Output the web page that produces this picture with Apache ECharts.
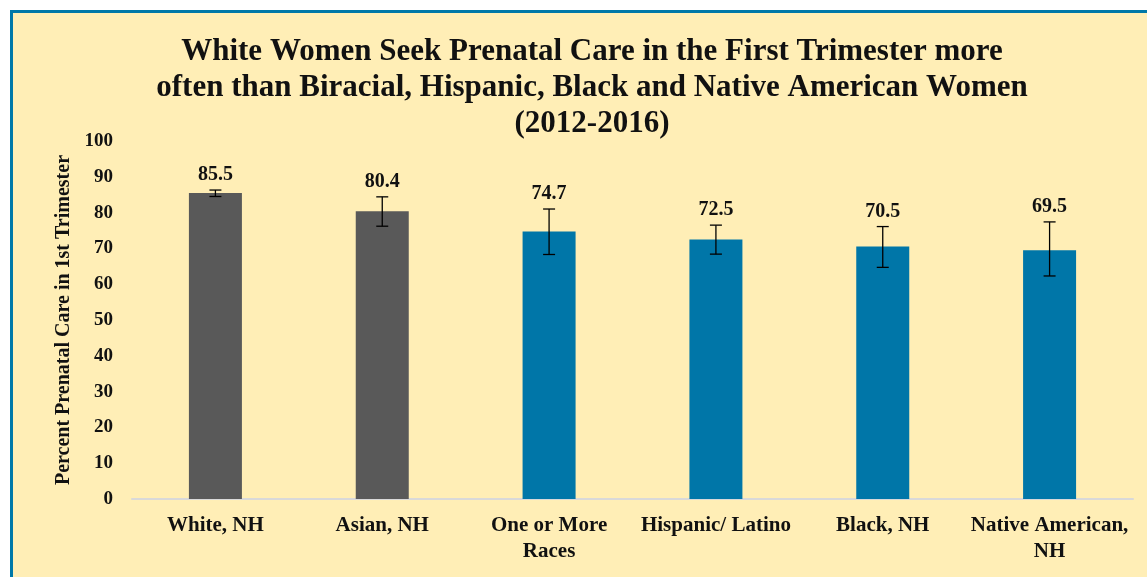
<!DOCTYPE html>
<html><head><meta charset="utf-8">
<script src="https://cdn.jsdelivr.net/npm/echarts@6/dist/echarts.min.js"></script>
<style>
html,body{margin:0;padding:0;background:#fff;width:1147px;height:577px;overflow:hidden}
#frame{position:absolute;left:10px;top:10px;width:1160px;height:600px;border:3px solid #0078A8;background:#FFEEB6;box-sizing:border-box}
#c{position:absolute;left:0;top:0;width:1147px;height:577px}
</style></head>
<body>
<div id="frame"></div>
<div id="c"></div>
<script>
const categories = ['White, NH','Asian, NH','One or More\nRaces','Hispanic/ Latino','Black, NH','Native American,\nNH'];
const values = [85.5, 80.4, 74.7, 72.5, 70.5, 69.5];
const errLow = [84.5, 76.2, 68.3, 68.4, 64.7, 62.3];
const errHigh = [86.3, 84.4, 81.0, 76.5, 76.1, 77.4];
const barColors = ['#595959','#595959','#0076A8','#0076A8','#0076A8','#0076A8'];
const yTicks = [0,10,20,30,40,50,60,70,80,90,100];

const font = '"Liberation Serif", serif';
const chart = echarts.init(document.getElementById('c'));
chart.setOption({
  backgroundColor: 'transparent',
  animation: false,
  title: {
    text: 'White Women Seek Prenatal Care in the First Trimester more\noften than Biracial, Hispanic, Black and Native American Women\n(2012-2016)',
    left: 587, top: 29, textAlign: 'center',
    textStyle: {fontFamily: font, fontWeight: 'bold', fontSize: 31, lineHeight: 36, color: '#111'}
  },
  grid: {left: 132, right: 14, top: 141, bottom: 78, containLabel: false},
  xAxis: {
    type: 'category', data: categories,
    axisLine: {lineStyle: {color: '#D9D9D9', width: 2}},
    axisTick: {show: false},
    axisLabel: {fontFamily: font, fontWeight: 'bold', fontSize: 21, color: '#111', lineHeight: 26, margin: 14, interval: 0}
  },
  yAxis: {
    type: 'value', min: 0, max: 100, interval: 10,
    name: 'Percent Prenatal Care in 1st Trimester',
    nameLocation: 'middle', nameGap: 58, nameRotate: 90,
    nameTextStyle: {fontFamily: font, fontWeight: 'bold', fontSize: 20, color: '#111'},
    axisLine: {show: false}, axisTick: {show: false}, splitLine: {show: false},
    axisLabel: {fontFamily: font, fontWeight: 'bold', fontSize: 19, color: '#111', margin: 19,
      formatter: v => yTicks.includes(v) ? String(v) : ''}
  },
  series: [
    {
      type: 'bar', barWidth: 53,
      data: values.map((v, i) => ({value: v, itemStyle: {color: barColors[i]}}))
    },
    {
      type: 'custom', z: 10,
      data: categories.map((c, i) => [i, errLow[i], errHigh[i], values[i]]),
      renderItem: function (params, api) {
        const i = api.value(0);
        const lo = api.coord([i, api.value(1)]);
        const hi = api.coord([i, api.value(2)]);
        const w = 6;
        const st = {stroke: '#000', lineWidth: 1.3};
        return {
          type: 'group',
          children: [
            {type: 'line', shape: {x1: lo[0], y1: lo[1], x2: hi[0], y2: hi[1]}, style: st},
            {type: 'line', shape: {x1: lo[0]-w, y1: lo[1], x2: lo[0]+w, y2: lo[1]}, style: st},
            {type: 'line', shape: {x1: hi[0]-w, y1: hi[1], x2: hi[0]+w, y2: hi[1]}, style: st},
            {type: 'text', style: {text: api.value(3).toFixed(1), x: hi[0], y: hi[1] - 15,
              align: 'center', verticalAlign: 'middle', font: 'bold 20px ' + font, fill: '#111'}}
          ]
        };
      }
    }
  ]
});
</script>
</body></html>
